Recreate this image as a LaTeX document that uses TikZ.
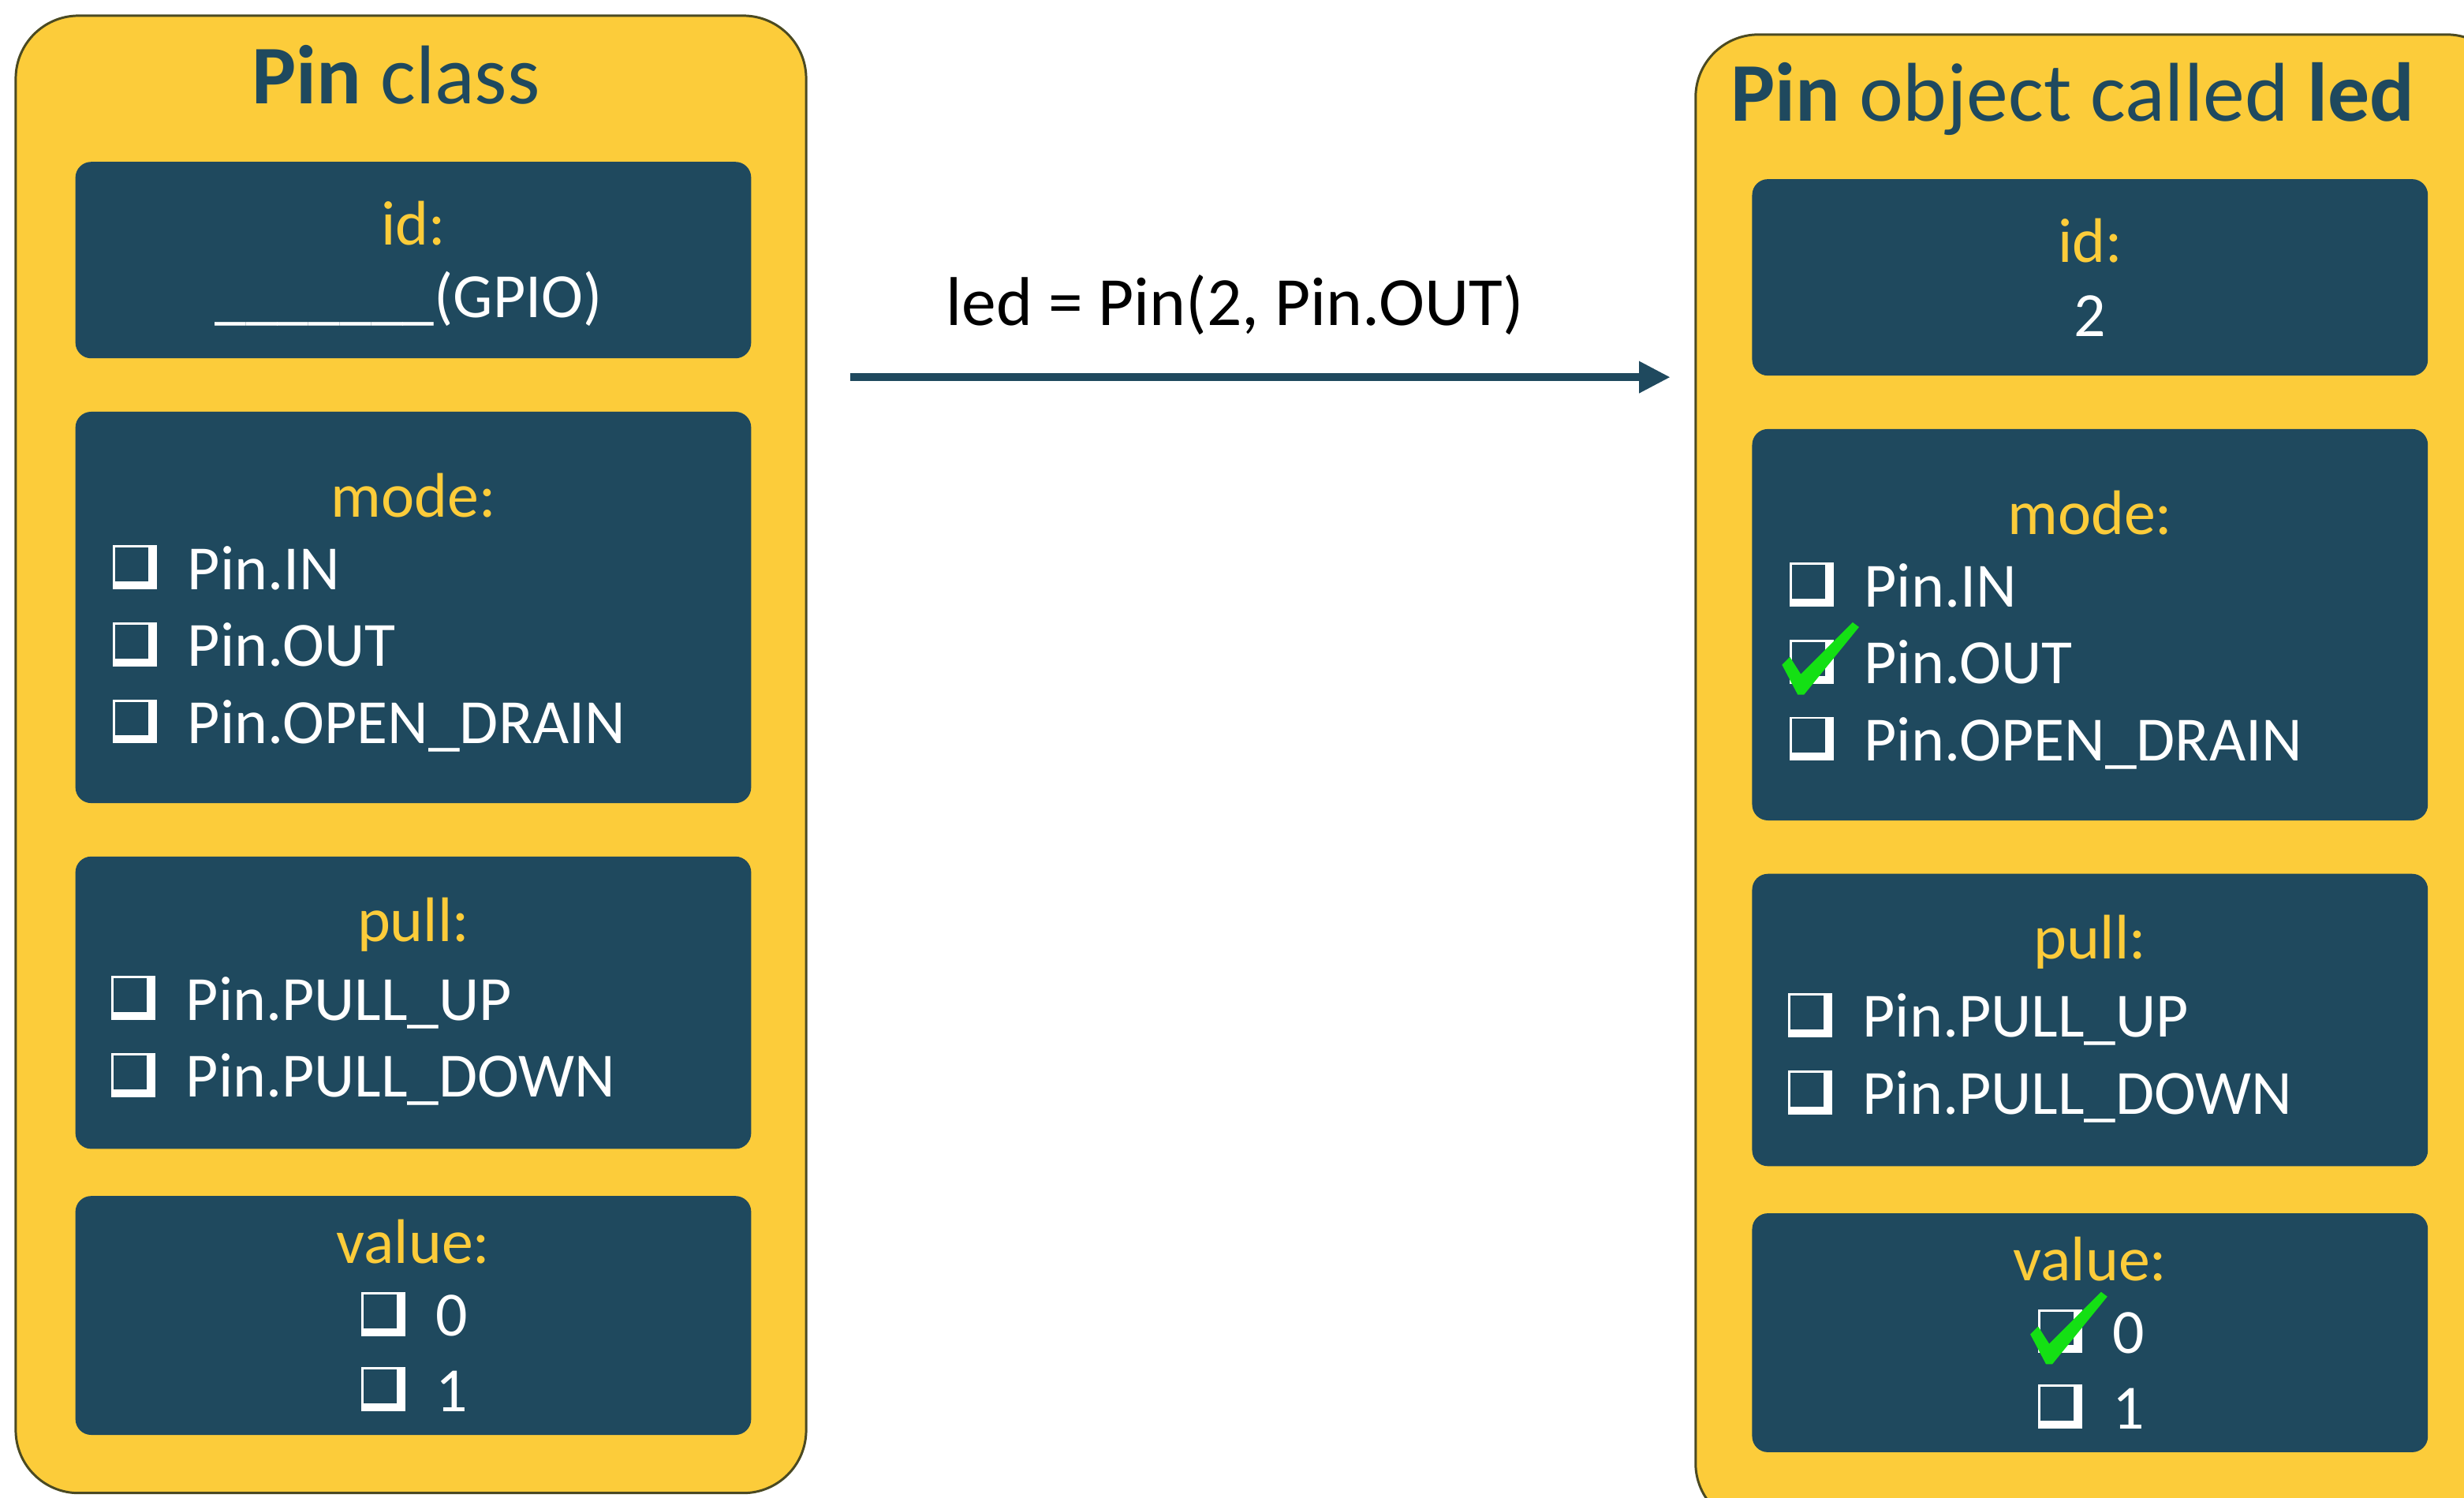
\documentclass[tikz,border=0pt]{standalone}
\usepackage{fontspec}
\setmainfont{Carlito}
\usepackage{tikz}
\usetikzlibrary{arrows.meta,positioning}

\definecolor{gold}{HTML}{FCCC3A}
\definecolor{navy}{HTML}{1F495E}
\definecolor{rim}{HTML}{4B4A22}
\definecolor{okgreen}{HTML}{14E014}

\tikzset{
  cbox/.pic={
    \fill[white] (-47,-28) rectangle (-19,0);
    \fill[navy] (-45.5,-26.5) rectangle (-24.5,-5);
  },
  tickmark/.pic={
    \fill[okgreen] (-52,-12) -- (-47,-17) -- (-40,-6) -- (-7,-39) -- (-3,-36) -- (-38,7) -- (-42,7) -- cycle;
  },
}

\begin{document}
\begin{tikzpicture}[x=0.2mm, y=-0.2mm,
    panel/.style={fill=gold, draw=rim, line width=0.3mm, rounded corners=8mm},
    field/.style={fill=navy, rounded corners=2mm},
    ttl/.style={text=navy, font=\fontsize{30.2}{36}\selectfont, inner sep=0pt, anchor=base},
    lbl/.style={text=gold, font=\fontsize{22.8}{27}\selectfont, inner sep=0pt, anchor=base},
    val/.style={text=white, font=\fontsize{22.8}{27}\selectfont, inner sep=0pt, anchor=base},
    opt/.style={val, anchor=base west},
    code/.style={text=black, font=\fontsize{25}{30}\selectfont, inner sep=0pt, anchor=base},
    flow/.style={navy, line width=1mm, -{Triangle[length=4mm,width=3.8mm]}}]
    \clip (0,0) rectangle (1568,953);
    \fill[white] (0,0) rectangle (1568,953);

    % class
    \draw[panel] (10,10) rectangle (513,950);
    \node[ttl] (ltitle) at (252,66) {\textbf{Pin} class};
    \fill[field] (48,103) rectangle (478,228);
    \fill[field] (48,262) rectangle (478,511);
    \fill[field] (48,545) rectangle (478,731);
    \fill[field] (48,761) rectangle (478,913);
    \node[lbl] (lid) at (263,156) {id:};
    \node[val] (lgpio) at (260,202) {\_\_\_\_\_\_\_(GPIO)};
    \node[lbl] (lmode) at (263,329) {mode:};
    \node[opt] (lin) at (119,375) {Pin.IN};
    \node[opt] (lout) at (119,424) {Pin.OUT};
    \node[opt] (ldrain) at (119,473) {Pin.OPEN\_DRAIN};
    \node[lbl] (lpull) at (263,599) {pull:};
    \node[opt] (lup) at (118,649) {Pin.PULL\_UP};
    \node[opt] (ldown) at (118,698) {Pin.PULL\_DOWN};
    \node[lbl] (lvalue) at (263,804) {value:};
    \node[opt] (lzero) at (277,850) {0};
    \node[opt] (lone) at (277,898) {1};

    % object
    \begin{scope}[shift={(1067,11)}]
    \draw[panel] (12,11) rectangle (530,960);
    \node[ttl] (rtitle) at (252,66) {\textbf{Pin} object called \textbf{led}};
    \fill[field] (48,103) rectangle (478,228);
    \fill[field] (48,262) rectangle (478,511);
    \fill[field] (48,545) rectangle (478,731);
    \fill[field] (48,761) rectangle (478,913);
    \node[lbl] (rid) at (263,156) {id:};
    \node[val] (rpin) at (263,203) {2};
    \node[lbl] (rmode) at (263,329) {mode:};
    \node[opt] (rin) at (119,375) {Pin.IN};
    \node[opt] (rout) at (119,424) {Pin.OUT};
    \node[opt] (rdrain) at (119,473) {Pin.OPEN\_DRAIN};
    \node[lbl] (rpull) at (263,599) {pull:};
    \node[opt] (rup) at (118,649) {Pin.PULL\_UP};
    \node[opt] (rdown) at (118,698) {Pin.PULL\_DOWN};
    \node[lbl] (rvalue) at (263,804) {value:};
    \node[opt] (rzero) at (277,850) {0};
    \node[opt] (rone) at (277,898) {1};
    \end{scope}

    \foreach \n in {lin,lout,ldrain,lup,ldown,lzero,lone,rin,rout,rdrain,rup,rdown,rzero,rone}
      \pic at (\n.base west) {cbox};
    \pic at (rout.base west) {tickmark};
    \pic at (rzero.base west) {tickmark};

    \node[code] (call) at (786,207) {led = Pin(2, Pin.OUT)};
    \coordinate (src) at (541,240);
    \coordinate (dst) at (1063,240);
    \draw[flow] (src) -- (dst);
\end{tikzpicture}
\end{document}
